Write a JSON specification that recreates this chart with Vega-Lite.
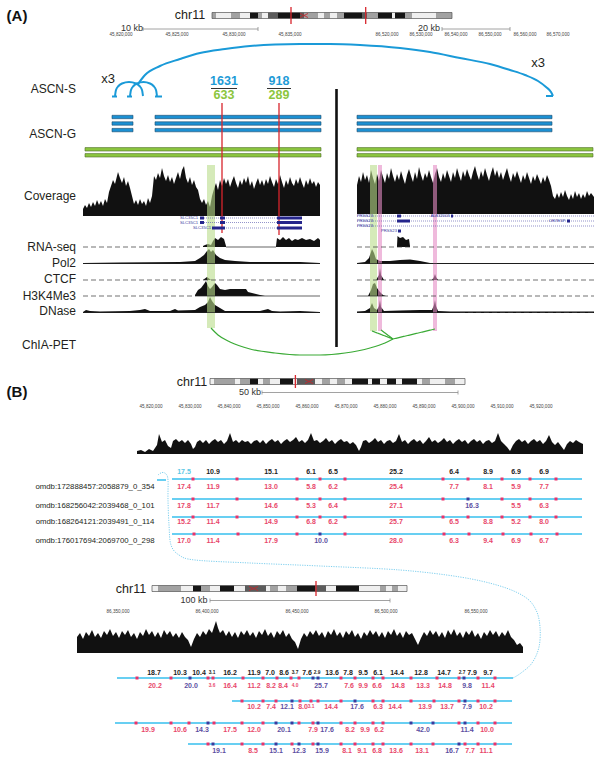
{
"$schema":"https://vega.github.io/schema/vega-lite/v6.json",
"width":602,"height":761,
"autosize":{"type":"fit","contains":"padding"},
"padding":0,
"background":"white",
"config":{"view":{"stroke":null},"font":"Liberation Sans"},
"resolve":{"scale":{"color":"independent","fill":"independent","stroke":"independent","size":"independent","strokeDash":"independent","opacity":"independent"}},
"datasets":{
"ideo":[
{"x":212,"x2":216,"y":12.5,"y2":18.5,"c":"g"},{"x":216,"x2":231,"y":12.5,"y2":18.5,"c":"w"},{"x":231,"x2":240,"y":12.5,"y2":18.5,"c":"g"},{"x":240,"x2":250,"y":12.5,"y2":18.5,"c":"w"},{"x":250,"x2":258,"y":12.5,"y2":18.5,"c":"k"},{"x":258,"x2":262,"y":12.5,"y2":18.5,"c":"g"},{"x":262,"x2":268,"y":12.5,"y2":18.5,"c":"w"},{"x":268,"x2":278,"y":12.5,"y2":18.5,"c":"d"},{"x":278,"x2":300,"y":12.5,"y2":18.5,"c":"k"},{"x":300,"x2":304,"y":12.5,"y2":18.5,"c":"d"},{"x":304,"x2":318,"y":12.5,"y2":18.5,"c":"g"},{"x":318,"x2":324,"y":12.5,"y2":18.5,"c":"w"},{"x":324,"x2":330,"y":12.5,"y2":18.5,"c":"g"},{"x":330,"x2":337,"y":12.5,"y2":18.5,"c":"w"},{"x":337,"x2":344,"y":12.5,"y2":18.5,"c":"g"},{"x":344,"x2":362,"y":12.5,"y2":18.5,"c":"k"},{"x":362,"x2":367,"y":12.5,"y2":18.5,"c":"d"},{"x":367,"x2":378,"y":12.5,"y2":18.5,"c":"g"},{"x":378,"x2":392,"y":12.5,"y2":18.5,"c":"k"},{"x":392,"x2":395,"y":12.5,"y2":18.5,"c":"w"},{"x":395,"x2":405,"y":12.5,"y2":18.5,"c":"k"},{"x":405,"x2":412,"y":12.5,"y2":18.5,"c":"g"},{"x":412,"x2":436,"y":12.5,"y2":18.5,"c":"w"},{"x":436,"x2":442,"y":12.5,"y2":18.5,"c":"g"},{"x":442,"x2":452,"y":12.5,"y2":18.5,"c":"g"},
{"x":210,"x2":214,"y":378.5,"y2":384.5,"c":"w"},{"x":214,"x2":235,"y":378.5,"y2":384.5,"c":"g"},{"x":235,"x2":240,"y":378.5,"y2":384.5,"c":"w"},{"x":240,"x2":250,"y":378.5,"y2":384.5,"c":"g"},{"x":250,"x2":258,"y":378.5,"y2":384.5,"c":"k"},{"x":258,"x2":263,"y":378.5,"y2":384.5,"c":"w"},{"x":263,"x2":270,"y":378.5,"y2":384.5,"c":"g"},{"x":270,"x2":280,"y":378.5,"y2":384.5,"c":"w"},{"x":280,"x2":293,"y":378.5,"y2":384.5,"c":"k"},{"x":293,"x2":297,"y":378.5,"y2":384.5,"c":"w"},{"x":297,"x2":315,"y":378.5,"y2":384.5,"c":"d"},{"x":315,"x2":322,"y":378.5,"y2":384.5,"c":"w"},{"x":322,"x2":330,"y":378.5,"y2":384.5,"c":"g"},{"x":330,"x2":337,"y":378.5,"y2":384.5,"c":"w"},{"x":337,"x2":345,"y":378.5,"y2":384.5,"c":"g"},{"x":345,"x2":352,"y":378.5,"y2":384.5,"c":"w"},{"x":352,"x2":368,"y":378.5,"y2":384.5,"c":"k"},{"x":368,"x2":372,"y":378.5,"y2":384.5,"c":"w"},{"x":372,"x2":380,"y":378.5,"y2":384.5,"c":"k"},{"x":380,"x2":387,"y":378.5,"y2":384.5,"c":"w"},{"x":387,"x2":396,"y":378.5,"y2":384.5,"c":"k"},{"x":396,"x2":402,"y":378.5,"y2":384.5,"c":"w"},{"x":402,"x2":417,"y":378.5,"y2":384.5,"c":"k"},{"x":417,"x2":422,"y":378.5,"y2":384.5,"c":"w"},{"x":422,"x2":430,"y":378.5,"y2":384.5,"c":"g"},{"x":430,"x2":445,"y":378.5,"y2":384.5,"c":"w"},{"x":445,"x2":455,"y":378.5,"y2":384.5,"c":"g"},{"x":455,"x2":465,"y":378.5,"y2":384.5,"c":"w"},
{"x":152,"x2":158,"y":585.5,"y2":591.5,"c":"w"},{"x":158,"x2":181,"y":585.5,"y2":591.5,"c":"g"},{"x":181,"x2":193,"y":585.5,"y2":591.5,"c":"w"},{"x":193,"x2":201,"y":585.5,"y2":591.5,"c":"k"},{"x":201,"x2":210,"y":585.5,"y2":591.5,"c":"g"},{"x":210,"x2":220,"y":585.5,"y2":591.5,"c":"w"},{"x":220,"x2":234,"y":585.5,"y2":591.5,"c":"k"},{"x":234,"x2":245,"y":585.5,"y2":591.5,"c":"w"},{"x":245,"x2":266,"y":585.5,"y2":591.5,"c":"d"},{"x":266,"x2":270,"y":585.5,"y2":591.5,"c":"w"},{"x":270,"x2":278,"y":585.5,"y2":591.5,"c":"g"},{"x":278,"x2":286,"y":585.5,"y2":591.5,"c":"w"},{"x":286,"x2":297,"y":585.5,"y2":591.5,"c":"g"},{"x":297,"x2":315,"y":585.5,"y2":591.5,"c":"k"},{"x":315,"x2":326,"y":585.5,"y2":591.5,"c":"d"},{"x":326,"x2":336,"y":585.5,"y2":591.5,"c":"w"},{"x":336,"x2":359,"y":585.5,"y2":591.5,"c":"k"},{"x":359,"x2":380,"y":585.5,"y2":591.5,"c":"w"},{"x":380,"x2":386,"y":585.5,"y2":591.5,"c":"g"},{"x":386,"x2":392,"y":585.5,"y2":591.5,"c":"w"},{"x":392,"x2":398,"y":585.5,"y2":591.5,"c":"g"},{"x":398,"x2":407,"y":585.5,"y2":591.5,"c":"w"}
],
"ideobox":[{"x":212,"x2":452,"y":12.5,"y2":18.5},{"x":210,"x2":465,"y":378.5,"y2":384.5},{"x":152,"x2":407,"y":585.5,"y2":591.5}],
"bars":[
{"x":112,"x2":133,"y":115.3,"y2":118.7,"c":"b"},{"x":155,"x2":321,"y":115.3,"y2":118.7,"c":"b"},{"x":357,"x2":552,"y":115.3,"y2":118.7,"c":"b"},
{"x":112,"x2":133,"y":121.8,"y2":125.2,"c":"b"},{"x":155,"x2":321,"y":121.8,"y2":125.2,"c":"b"},{"x":357,"x2":552,"y":121.8,"y2":125.2,"c":"b"},
{"x":112,"x2":133,"y":128.4,"y2":131.8,"c":"b"},{"x":155,"x2":321,"y":128.4,"y2":131.8,"c":"b"},{"x":357,"x2":552,"y":128.4,"y2":131.8,"c":"b"},
{"x":85,"x2":321,"y":147.6,"y2":151,"c":"g"},{"x":357,"x2":593,"y":147.6,"y2":151,"c":"g"},
{"x":85,"x2":321,"y":153.6,"y2":157,"c":"g"},{"x":357,"x2":593,"y":153.6,"y2":157,"c":"g"}
],
"hl":[{"x":207,"x2":215,"y":165,"y2":328,"c":"g"},{"x":370,"x2":377,"y":165,"y2":331,"c":"g"},{"x":378,"x2":382,"y":165,"y2":331,"c":"p"},{"x":433,"x2":437,"y":165,"y2":331,"c":"p"}],
"bases":[{"s":"cA1","b":216},{"s":"cA2","b":214},{"s":"cB1","b":454},{"s":"cB2","b":653},{"s":"r1","b":247},{"s":"r2","b":247},{"s":"r3","b":247},{"s":"p1","b":264},{"s":"p2","b":264},{"s":"c1","b":280},{"s":"c2","b":280},{"s":"c3","b":280},{"s":"h1","b":296},{"s":"h2","b":296},{"s":"d1","b":313},{"s":"d2","b":313}],
"areas":[
{"s":"cA1","x":83,"y":209},{"s":"cA1","x":85,"y":205},{"s":"cA1","x":87,"y":208},{"s":"cA1","x":89,"y":203},{"s":"cA1","x":91,"y":207},{"s":"cA1","x":93,"y":202},{"s":"cA1","x":95,"y":206},{"s":"cA1","x":97,"y":200},{"s":"cA1","x":99,"y":205},{"s":"cA1","x":101,"y":201},{"s":"cA1","x":103,"y":206},{"s":"cA1","x":105,"y":199},{"s":"cA1","x":107,"y":203},{"s":"cA1","x":109,"y":192},{"s":"cA1","x":111,"y":186},{"s":"cA1","x":113,"y":180},{"s":"cA1","x":115,"y":184},{"s":"cA1","x":117,"y":176},{"s":"cA1","x":118,"y":172},{"s":"cA1","x":120,"y":178},{"s":"cA1","x":122,"y":183},{"s":"cA1","x":124,"y":177},{"s":"cA1","x":126,"y":186},{"s":"cA1","x":128,"y":181},{"s":"cA1","x":130,"y":188},{"s":"cA1","x":132,"y":196},{"s":"cA1","x":134,"y":204},{"s":"cA1","x":136,"y":200},{"s":"cA1","x":138,"y":205},{"s":"cA1","x":140,"y":199},{"s":"cA1","x":142,"y":204},{"s":"cA1","x":144,"y":201},{"s":"cA1","x":146,"y":206},{"s":"cA1","x":148,"y":198},{"s":"cA1","x":150,"y":203},{"s":"cA1","x":152,"y":196},{"s":"cA1","x":154,"y":176},{"s":"cA1","x":156,"y":180},{"s":"cA1","x":158,"y":173},{"s":"cA1","x":160,"y":178},{"s":"cA1","x":162,"y":168},{"s":"cA1","x":164,"y":176},{"s":"cA1","x":166,"y":181},{"s":"cA1","x":168,"y":175},{"s":"cA1","x":170,"y":182},{"s":"cA1","x":172,"y":177},{"s":"cA1","x":174,"y":184},{"s":"cA1","x":176,"y":178},{"s":"cA1","x":178,"y":172},{"s":"cA1","x":180,"y":179},{"s":"cA1","x":182,"y":170},{"s":"cA1","x":184,"y":166},{"s":"cA1","x":186,"y":178},{"s":"cA1","x":188,"y":183},{"s":"cA1","x":190,"y":177},{"s":"cA1","x":192,"y":185},{"s":"cA1","x":194,"y":180},{"s":"cA1","x":196,"y":187},{"s":"cA1","x":198,"y":190},{"s":"cA1","x":200,"y":199},{"s":"cA1","x":202,"y":203},{"s":"cA1","x":204,"y":199},{"s":"cA1","x":206,"y":205},{"s":"cA1","x":208,"y":201},{"s":"cA1","x":210,"y":207},{"s":"cA1","x":212,"y":196},{"s":"cA1","x":214,"y":189},{"s":"cA1","x":216,"y":183},{"s":"cA1","x":218,"y":190},{"s":"cA1","x":220,"y":180},{"s":"cA1","x":222,"y":186},{"s":"cA1","x":224,"y":178},{"s":"cA1","x":226,"y":184},{"s":"cA1","x":228,"y":179},{"s":"cA1","x":230,"y":187},{"s":"cA1","x":232,"y":181},{"s":"cA1","x":234,"y":176},{"s":"cA1","x":236,"y":183},{"s":"cA1","x":238,"y":188},{"s":"cA1","x":240,"y":180},{"s":"cA1","x":242,"y":185},{"s":"cA1","x":244,"y":178},{"s":"cA1","x":246,"y":183},{"s":"cA1","x":248,"y":176},{"s":"cA1","x":250,"y":186},{"s":"cA1","x":252,"y":181},{"s":"cA1","x":254,"y":189},{"s":"cA1","x":256,"y":183},{"s":"cA1","x":258,"y":178},{"s":"cA1","x":260,"y":185},{"s":"cA1","x":262,"y":180},{"s":"cA1","x":264,"y":186},{"s":"cA1","x":266,"y":179},{"s":"cA1","x":268,"y":184},{"s":"cA1","x":270,"y":176},{"s":"cA1","x":272,"y":182},{"s":"cA1","x":274,"y":187},{"s":"cA1","x":276,"y":179},{"s":"cA1","x":278,"y":184},{"s":"cA1","x":280,"y":175},{"s":"cA1","x":282,"y":182},{"s":"cA1","x":284,"y":188},{"s":"cA1","x":286,"y":180},{"s":"cA1","x":288,"y":185},{"s":"cA1","x":290,"y":177},{"s":"cA1","x":292,"y":183},{"s":"cA1","x":294,"y":186},{"s":"cA1","x":296,"y":179},{"s":"cA1","x":298,"y":184},{"s":"cA1","x":300,"y":177},{"s":"cA1","x":302,"y":183},{"s":"cA1","x":304,"y":188},{"s":"cA1","x":306,"y":180},{"s":"cA1","x":308,"y":185},{"s":"cA1","x":310,"y":178},{"s":"cA1","x":312,"y":184},{"s":"cA1","x":314,"y":181},{"s":"cA1","x":316,"y":187},{"s":"cA1","x":318,"y":182},{"s":"cA1","x":320,"y":185},
{"s":"cA2","x":357,"y":185},{"s":"cA2","x":359,"y":176},{"s":"cA2","x":361,"y":182},{"s":"cA2","x":363,"y":172},{"s":"cA2","x":365,"y":180},{"s":"cA2","x":367,"y":175},{"s":"cA2","x":369,"y":183},{"s":"cA2","x":371,"y":170},{"s":"cA2","x":373,"y":178},{"s":"cA2","x":375,"y":184},{"s":"cA2","x":377,"y":174},{"s":"cA2","x":379,"y":181},{"s":"cA2","x":381,"y":170},{"s":"cA2","x":383,"y":177},{"s":"cA2","x":385,"y":183},{"s":"cA2","x":387,"y":173},{"s":"cA2","x":389,"y":179},{"s":"cA2","x":391,"y":168},{"s":"cA2","x":393,"y":176},{"s":"cA2","x":395,"y":182},{"s":"cA2","x":397,"y":174},{"s":"cA2","x":399,"y":180},{"s":"cA2","x":401,"y":171},{"s":"cA2","x":403,"y":178},{"s":"cA2","x":405,"y":184},{"s":"cA2","x":407,"y":175},{"s":"cA2","x":409,"y":169},{"s":"cA2","x":411,"y":176},{"s":"cA2","x":413,"y":182},{"s":"cA2","x":415,"y":172},{"s":"cA2","x":417,"y":179},{"s":"cA2","x":419,"y":167},{"s":"cA2","x":421,"y":175},{"s":"cA2","x":423,"y":181},{"s":"cA2","x":425,"y":173},{"s":"cA2","x":427,"y":178},{"s":"cA2","x":429,"y":170},{"s":"cA2","x":431,"y":177},{"s":"cA2","x":433,"y":183},{"s":"cA2","x":435,"y":174},{"s":"cA2","x":437,"y":168},{"s":"cA2","x":439,"y":177},{"s":"cA2","x":441,"y":182},{"s":"cA2","x":443,"y":173},{"s":"cA2","x":445,"y":179},{"s":"cA2","x":447,"y":170},{"s":"cA2","x":449,"y":176},{"s":"cA2","x":451,"y":182},{"s":"cA2","x":453,"y":172},{"s":"cA2","x":455,"y":178},{"s":"cA2","x":457,"y":168},{"s":"cA2","x":459,"y":175},{"s":"cA2","x":461,"y":181},{"s":"cA2","x":463,"y":171},{"s":"cA2","x":465,"y":177},{"s":"cA2","x":467,"y":169},{"s":"cA2","x":469,"y":175},{"s":"cA2","x":471,"y":180},{"s":"cA2","x":473,"y":172},{"s":"cA2","x":475,"y":166},{"s":"cA2","x":477,"y":174},{"s":"cA2","x":479,"y":180},{"s":"cA2","x":481,"y":171},{"s":"cA2","x":483,"y":177},{"s":"cA2","x":485,"y":168},{"s":"cA2","x":487,"y":175},{"s":"cA2","x":489,"y":181},{"s":"cA2","x":491,"y":173},{"s":"cA2","x":493,"y":167},{"s":"cA2","x":495,"y":176},{"s":"cA2","x":497,"y":170},{"s":"cA2","x":499,"y":178},{"s":"cA2","x":501,"y":172},{"s":"cA2","x":503,"y":180},{"s":"cA2","x":505,"y":174},{"s":"cA2","x":507,"y":168},{"s":"cA2","x":509,"y":176},{"s":"cA2","x":511,"y":182},{"s":"cA2","x":513,"y":173},{"s":"cA2","x":515,"y":178},{"s":"cA2","x":517,"y":171},{"s":"cA2","x":519,"y":177},{"s":"cA2","x":521,"y":183},{"s":"cA2","x":523,"y":175},{"s":"cA2","x":525,"y":180},{"s":"cA2","x":527,"y":172},{"s":"cA2","x":529,"y":178},{"s":"cA2","x":531,"y":184},{"s":"cA2","x":533,"y":176},{"s":"cA2","x":535,"y":181},{"s":"cA2","x":537,"y":174},{"s":"cA2","x":539,"y":179},{"s":"cA2","x":541,"y":184},{"s":"cA2","x":543,"y":177},{"s":"cA2","x":545,"y":182},{"s":"cA2","x":547,"y":175},{"s":"cA2","x":549,"y":180},{"s":"cA2","x":551,"y":186},{"s":"cA2","x":553,"y":196},{"s":"cA2","x":555,"y":199},{"s":"cA2","x":557,"y":193},{"s":"cA2","x":559,"y":198},{"s":"cA2","x":561,"y":192},{"s":"cA2","x":563,"y":197},{"s":"cA2","x":565,"y":190},{"s":"cA2","x":567,"y":196},{"s":"cA2","x":569,"y":200},{"s":"cA2","x":571,"y":194},{"s":"cA2","x":573,"y":199},{"s":"cA2","x":575,"y":191},{"s":"cA2","x":577,"y":197},{"s":"cA2","x":579,"y":193},{"s":"cA2","x":581,"y":199},{"s":"cA2","x":583,"y":194},{"s":"cA2","x":585,"y":198},{"s":"cA2","x":587,"y":191},{"s":"cA2","x":589,"y":196},{"s":"cA2","x":591,"y":193},{"s":"cA2","x":594,"y":197},
{"s":"cB1","x":137,"y":451},{"s":"cB1","x":141,"y":450},{"s":"cB1","x":145,"y":452},{"s":"cB1","x":149,"y":449},{"s":"cB1","x":153,"y":451},{"s":"cB1","x":157,"y":445},{"s":"cB1","x":159,"y":434},{"s":"cB1","x":162,"y":442},{"s":"cB1","x":165,"y":440},{"s":"cB1","x":168,"y":446},{"s":"cB1","x":171,"y":448},{"s":"cB1","x":173,"y":441},{"s":"cB1","x":176,"y":439},{"s":"cB1","x":179,"y":442},{"s":"cB1","x":182,"y":440},{"s":"cB1","x":185,"y":443},{"s":"cB1","x":188,"y":440},{"s":"cB1","x":191,"y":444},{"s":"cB1","x":193,"y":449},{"s":"cB1","x":195,"y":447},{"s":"cB1","x":197,"y":442},{"s":"cB1","x":200,"y":440},{"s":"cB1","x":203,"y":443},{"s":"cB1","x":206,"y":440},{"s":"cB1","x":209,"y":444},{"s":"cB1","x":212,"y":441},{"s":"cB1","x":215,"y":439},{"s":"cB1","x":218,"y":442},{"s":"cB1","x":221,"y":440},{"s":"cB1","x":224,"y":444},{"s":"cB1","x":227,"y":441},{"s":"cB1","x":230,"y":433},{"s":"cB1","x":233,"y":442},{"s":"cB1","x":236,"y":440},{"s":"cB1","x":239,"y":443},{"s":"cB1","x":242,"y":440},{"s":"cB1","x":245,"y":442},{"s":"cB1","x":248,"y":441},{"s":"cB1","x":251,"y":444},{"s":"cB1","x":254,"y":441},{"s":"cB1","x":257,"y":440},{"s":"cB1","x":260,"y":443},{"s":"cB1","x":263,"y":440},{"s":"cB1","x":266,"y":444},{"s":"cB1","x":269,"y":441},{"s":"cB1","x":272,"y":439},{"s":"cB1","x":275,"y":442},{"s":"cB1","x":278,"y":440},{"s":"cB1","x":281,"y":444},{"s":"cB1","x":284,"y":441},{"s":"cB1","x":287,"y":439},{"s":"cB1","x":290,"y":442},{"s":"cB1","x":293,"y":440},{"s":"cB1","x":296,"y":437},{"s":"cB1","x":299,"y":442},{"s":"cB1","x":302,"y":440},{"s":"cB1","x":305,"y":443},{"s":"cB1","x":308,"y":440},{"s":"cB1","x":311,"y":433},{"s":"cB1","x":314,"y":441},{"s":"cB1","x":317,"y":440},{"s":"cB1","x":320,"y":443},{"s":"cB1","x":323,"y":441},{"s":"cB1","x":326,"y":438},{"s":"cB1","x":329,"y":442},{"s":"cB1","x":332,"y":440},{"s":"cB1","x":335,"y":444},{"s":"cB1","x":338,"y":441},{"s":"cB1","x":341,"y":439},{"s":"cB1","x":344,"y":442},{"s":"cB1","x":347,"y":441},{"s":"cB1","x":350,"y":444},{"s":"cB1","x":353,"y":442},{"s":"cB1","x":356,"y":445},{"s":"cB1","x":359,"y":451},{"s":"cB1","x":361,"y":447},{"s":"cB1","x":363,"y":441},{"s":"cB1","x":366,"y":440},{"s":"cB1","x":369,"y":443},{"s":"cB1","x":372,"y":441},{"s":"cB1","x":375,"y":438},{"s":"cB1","x":378,"y":442},{"s":"cB1","x":381,"y":440},{"s":"cB1","x":384,"y":444},{"s":"cB1","x":387,"y":441},{"s":"cB1","x":390,"y":440},{"s":"cB1","x":393,"y":443},{"s":"cB1","x":396,"y":441},{"s":"cB1","x":399,"y":434},{"s":"cB1","x":402,"y":442},{"s":"cB1","x":405,"y":440},{"s":"cB1","x":408,"y":444},{"s":"cB1","x":411,"y":441},{"s":"cB1","x":414,"y":439},{"s":"cB1","x":417,"y":442},{"s":"cB1","x":420,"y":440},{"s":"cB1","x":423,"y":444},{"s":"cB1","x":426,"y":441},{"s":"cB1","x":429,"y":437},{"s":"cB1","x":432,"y":442},{"s":"cB1","x":435,"y":440},{"s":"cB1","x":438,"y":443},{"s":"cB1","x":441,"y":441},{"s":"cB1","x":444,"y":438},{"s":"cB1","x":447,"y":442},{"s":"cB1","x":450,"y":440},{"s":"cB1","x":453,"y":444},{"s":"cB1","x":456,"y":441},{"s":"cB1","x":459,"y":439},{"s":"cB1","x":462,"y":442},{"s":"cB1","x":465,"y":440},{"s":"cB1","x":468,"y":444},{"s":"cB1","x":471,"y":441},{"s":"cB1","x":474,"y":439},{"s":"cB1","x":477,"y":442},{"s":"cB1","x":480,"y":440},{"s":"cB1","x":483,"y":444},{"s":"cB1","x":486,"y":441},{"s":"cB1","x":489,"y":440},{"s":"cB1","x":492,"y":443},{"s":"cB1","x":495,"y":441},{"s":"cB1","x":498,"y":433},{"s":"cB1","x":501,"y":441},{"s":"cB1","x":504,"y":444},{"s":"cB1","x":507,"y":447},{"s":"cB1","x":510,"y":451},{"s":"cB1","x":513,"y":445},{"s":"cB1","x":516,"y":441},{"s":"cB1","x":519,"y":439},{"s":"cB1","x":522,"y":442},{"s":"cB1","x":525,"y":440},{"s":"cB1","x":528,"y":444},{"s":"cB1","x":531,"y":441},{"s":"cB1","x":534,"y":439},{"s":"cB1","x":537,"y":442},{"s":"cB1","x":540,"y":440},{"s":"cB1","x":543,"y":444},{"s":"cB1","x":546,"y":441},{"s":"cB1","x":549,"y":435},{"s":"cB1","x":552,"y":442},{"s":"cB1","x":555,"y":445},{"s":"cB1","x":558,"y":442},{"s":"cB1","x":561,"y":446},{"s":"cB1","x":564,"y":450},{"s":"cB1","x":567,"y":444},{"s":"cB1","x":570,"y":441},{"s":"cB1","x":573,"y":443},{"s":"cB1","x":576,"y":440},{"s":"cB1","x":579,"y":442},{"s":"cB1","x":583,"y":444},
{"s":"cB2","x":77,"y":637},{"s":"cB2","x":80,"y":633},{"s":"cB2","x":83,"y":639},{"s":"cB2","x":86,"y":632},{"s":"cB2","x":89,"y":636},{"s":"cB2","x":92,"y":630},{"s":"cB2","x":95,"y":637},{"s":"cB2","x":98,"y":633},{"s":"cB2","x":101,"y":638},{"s":"cB2","x":104,"y":631},{"s":"cB2","x":107,"y":635},{"s":"cB2","x":110,"y":629},{"s":"cB2","x":113,"y":636},{"s":"cB2","x":116,"y":632},{"s":"cB2","x":119,"y":638},{"s":"cB2","x":122,"y":631},{"s":"cB2","x":125,"y":635},{"s":"cB2","x":128,"y":630},{"s":"cB2","x":131,"y":637},{"s":"cB2","x":134,"y":633},{"s":"cB2","x":137,"y":639},{"s":"cB2","x":140,"y":632},{"s":"cB2","x":143,"y":636},{"s":"cB2","x":146,"y":629},{"s":"cB2","x":149,"y":635},{"s":"cB2","x":152,"y":631},{"s":"cB2","x":155,"y":637},{"s":"cB2","x":158,"y":632},{"s":"cB2","x":161,"y":638},{"s":"cB2","x":164,"y":630},{"s":"cB2","x":167,"y":635},{"s":"cB2","x":170,"y":631},{"s":"cB2","x":173,"y":637},{"s":"cB2","x":176,"y":633},{"s":"cB2","x":179,"y":638},{"s":"cB2","x":182,"y":632},{"s":"cB2","x":185,"y":637},{"s":"cB2","x":188,"y":640},{"s":"cB2","x":191,"y":647},{"s":"cB2","x":194,"y":639},{"s":"cB2","x":197,"y":633},{"s":"cB2","x":200,"y":637},{"s":"cB2","x":203,"y":631},{"s":"cB2","x":206,"y":635},{"s":"cB2","x":209,"y":629},{"s":"cB2","x":212,"y":633},{"s":"cB2","x":214,"y":627},{"s":"cB2","x":216,"y":621},{"s":"cB2","x":218,"y":628},{"s":"cB2","x":220,"y":633},{"s":"cB2","x":223,"y":630},{"s":"cB2","x":226,"y":636},{"s":"cB2","x":229,"y":631},{"s":"cB2","x":232,"y":637},{"s":"cB2","x":235,"y":632},{"s":"cB2","x":238,"y":638},{"s":"cB2","x":241,"y":631},{"s":"cB2","x":244,"y":635},{"s":"cB2","x":247,"y":630},{"s":"cB2","x":250,"y":636},{"s":"cB2","x":253,"y":632},{"s":"cB2","x":256,"y":638},{"s":"cB2","x":259,"y":631},{"s":"cB2","x":262,"y":635},{"s":"cB2","x":265,"y":629},{"s":"cB2","x":268,"y":636},{"s":"cB2","x":271,"y":632},{"s":"cB2","x":274,"y":638},{"s":"cB2","x":277,"y":631},{"s":"cB2","x":280,"y":635},{"s":"cB2","x":283,"y":630},{"s":"cB2","x":286,"y":637},{"s":"cB2","x":289,"y":633},{"s":"cB2","x":292,"y":639},{"s":"cB2","x":295,"y":642},{"s":"cB2","x":298,"y":649},{"s":"cB2","x":301,"y":639},{"s":"cB2","x":304,"y":633},{"s":"cB2","x":307,"y":637},{"s":"cB2","x":310,"y":631},{"s":"cB2","x":313,"y":635},{"s":"cB2","x":316,"y":630},{"s":"cB2","x":319,"y":636},{"s":"cB2","x":322,"y":632},{"s":"cB2","x":325,"y":638},{"s":"cB2","x":328,"y":631},{"s":"cB2","x":331,"y":635},{"s":"cB2","x":334,"y":629},{"s":"cB2","x":337,"y":636},{"s":"cB2","x":340,"y":632},{"s":"cB2","x":343,"y":638},{"s":"cB2","x":346,"y":631},{"s":"cB2","x":349,"y":635},{"s":"cB2","x":352,"y":630},{"s":"cB2","x":355,"y":637},{"s":"cB2","x":358,"y":633},{"s":"cB2","x":361,"y":639},{"s":"cB2","x":364,"y":632},{"s":"cB2","x":367,"y":636},{"s":"cB2","x":370,"y":630},{"s":"cB2","x":373,"y":635},{"s":"cB2","x":376,"y":631},{"s":"cB2","x":379,"y":637},{"s":"cB2","x":382,"y":632},{"s":"cB2","x":385,"y":638},{"s":"cB2","x":388,"y":631},{"s":"cB2","x":391,"y":635},{"s":"cB2","x":394,"y":629},{"s":"cB2","x":397,"y":636},{"s":"cB2","x":400,"y":632},{"s":"cB2","x":403,"y":638},{"s":"cB2","x":406,"y":631},{"s":"cB2","x":409,"y":635},{"s":"cB2","x":412,"y":633},{"s":"cB2","x":415,"y":639},{"s":"cB2","x":418,"y":645},{"s":"cB2","x":421,"y":638},{"s":"cB2","x":424,"y":632},{"s":"cB2","x":427,"y":636},{"s":"cB2","x":430,"y":630},{"s":"cB2","x":433,"y":635},{"s":"cB2","x":436,"y":631},{"s":"cB2","x":439,"y":637},{"s":"cB2","x":442,"y":632},{"s":"cB2","x":445,"y":638},{"s":"cB2","x":448,"y":630},{"s":"cB2","x":451,"y":635},{"s":"cB2","x":454,"y":629},{"s":"cB2","x":457,"y":636},{"s":"cB2","x":460,"y":632},{"s":"cB2","x":463,"y":638},{"s":"cB2","x":466,"y":631},{"s":"cB2","x":469,"y":635},{"s":"cB2","x":472,"y":630},{"s":"cB2","x":475,"y":637},{"s":"cB2","x":478,"y":633},{"s":"cB2","x":481,"y":639},{"s":"cB2","x":484,"y":632},{"s":"cB2","x":487,"y":636},{"s":"cB2","x":490,"y":630},{"s":"cB2","x":493,"y":635},{"s":"cB2","x":496,"y":631},{"s":"cB2","x":499,"y":637},{"s":"cB2","x":502,"y":632},{"s":"cB2","x":505,"y":636},{"s":"cB2","x":508,"y":630},{"s":"cB2","x":511,"y":637},{"s":"cB2","x":514,"y":640},{"s":"cB2","x":517,"y":645},{"s":"cB2","x":520,"y":643},{"s":"cB2","x":523,"y":647},
{"s":"r1","x":203,"y":246},{"s":"r1","x":205,"y":245},{"s":"r1","x":208,"y":244},{"s":"r1","x":211,"y":245},{"s":"r1","x":213,"y":241},{"s":"r1","x":215,"y":238},{"s":"r1","x":218,"y":240},{"s":"r1","x":221,"y":237},{"s":"r1","x":224,"y":239},{"s":"r1","x":226,"y":246},
{"s":"r2","x":276,"y":246},{"s":"r2","x":277,"y":238},{"s":"r2","x":280,"y":240},{"s":"r2","x":283,"y":237},{"s":"r2","x":286,"y":240},{"s":"r2","x":289,"y":238},{"s":"r2","x":292,"y":241},{"s":"r2","x":295,"y":239},{"s":"r2","x":298,"y":240},{"s":"r2","x":302,"y":238},{"s":"r2","x":306,"y":240},{"s":"r2","x":310,"y":239},{"s":"r2","x":314,"y":241},{"s":"r2","x":318,"y":238},{"s":"r2","x":320,"y":240},
{"s":"r3","x":397,"y":246},{"s":"r3","x":397.5,"y":236},{"s":"r3","x":400,"y":238},{"s":"r3","x":403,"y":237},{"s":"r3","x":406,"y":240},{"s":"r3","x":409,"y":239},{"s":"r3","x":410,"y":246},
{"s":"p1","x":83,"y":263},{"s":"p1","x":120,"y":262.5},{"s":"p1","x":180,"y":262},{"s":"p1","x":195,"y":261},{"s":"p1","x":200,"y":258},{"s":"p1","x":204,"y":255},{"s":"p1","x":207,"y":251},{"s":"p1","x":209,"y":249},{"s":"p1","x":211,"y":252},{"s":"p1","x":213,"y":250},{"s":"p1","x":216,"y":255},{"s":"p1","x":220,"y":258},{"s":"p1","x":225,"y":260},{"s":"p1","x":235,"y":261},{"s":"p1","x":250,"y":262},{"s":"p1","x":300,"y":262},{"s":"p1","x":320,"y":263},
{"s":"p2","x":357,"y":263},{"s":"p2","x":365,"y":262},{"s":"p2","x":369,"y":258},{"s":"p2","x":371,"y":252},{"s":"p2","x":372,"y":249},{"s":"p2","x":374,"y":253},{"s":"p2","x":376,"y":259},{"s":"p2","x":380,"y":261},{"s":"p2","x":390,"y":261},{"s":"p2","x":400,"y":260},{"s":"p2","x":410,"y":259.5},{"s":"p2","x":420,"y":261},{"s":"p2","x":430,"y":263},{"s":"p2","x":594,"y":263},
{"s":"c1","x":203,"y":280},{"s":"c1","x":207,"y":277},{"s":"c1","x":211,"y":280},
{"s":"c2","x":376,"y":280},{"s":"c2","x":379,"y":275},{"s":"c2","x":380,"y":268},{"s":"c2","x":381,"y":275},{"s":"c2","x":384,"y":280},
{"s":"c3","x":432,"y":280},{"s":"c3","x":434,"y":277},{"s":"c3","x":435,"y":274},{"s":"c3","x":436,"y":277},{"s":"c3","x":438,"y":280},
{"s":"h1","x":195,"y":295},{"s":"h1","x":198,"y":290},{"s":"h1","x":201,"y":288},{"s":"h1","x":204,"y":284},{"s":"h1","x":206,"y":281},{"s":"h1","x":208,"y":286},{"s":"h1","x":210,"y":289},{"s":"h1","x":212,"y":287},{"s":"h1","x":215,"y":283},{"s":"h1","x":217,"y":285},{"s":"h1","x":220,"y":289},{"s":"h1","x":225,"y":290},{"s":"h1","x":230,"y":289},{"s":"h1","x":240,"y":289},{"s":"h1","x":246,"y":289},{"s":"h1","x":248,"y":292},{"s":"h1","x":252,"y":293},{"s":"h1","x":256,"y":294},{"s":"h1","x":260,"y":295},{"s":"h1","x":265,"y":296},
{"s":"h2","x":368,"y":296},{"s":"h2","x":371,"y":290},{"s":"h2","x":373,"y":284},{"s":"h2","x":375,"y":283},{"s":"h2","x":377,"y":288},{"s":"h2","x":380,"y":292},{"s":"h2","x":383,"y":295},{"s":"h2","x":386,"y":296},
{"s":"d1","x":83,"y":312},{"s":"d1","x":86,"y":310},{"s":"d1","x":90,"y":311},{"s":"d1","x":100,"y":311.5},{"s":"d1","x":130,"y":311},{"s":"d1","x":140,"y":310},{"s":"d1","x":145,"y":309},{"s":"d1","x":150,"y":311},{"s":"d1","x":170,"y":311},{"s":"d1","x":175,"y":309},{"s":"d1","x":178,"y":310.5},{"s":"d1","x":195,"y":310},{"s":"d1","x":200,"y":307},{"s":"d1","x":205,"y":305},{"s":"d1","x":208,"y":302},{"s":"d1","x":210,"y":297},{"s":"d1","x":212,"y":301},{"s":"d1","x":215,"y":305},{"s":"d1","x":220,"y":308},{"s":"d1","x":225,"y":311},{"s":"d1","x":260,"y":311},{"s":"d1","x":268,"y":309},{"s":"d1","x":272,"y":311},{"s":"d1","x":280,"y":311.5},{"s":"d1","x":300,"y":311},{"s":"d1","x":320,"y":312},
{"s":"d2","x":357,"y":311.5},{"s":"d2","x":365,"y":311},{"s":"d2","x":370,"y":308},{"s":"d2","x":372,"y":303},{"s":"d2","x":374,"y":308},{"s":"d2","x":377,"y":310},{"s":"d2","x":379,"y":306},{"s":"d2","x":380,"y":300},{"s":"d2","x":381,"y":307},{"s":"d2","x":384,"y":311},{"s":"d2","x":400,"y":310.5},{"s":"d2","x":420,"y":310},{"s":"d2","x":432,"y":310},{"s":"d2","x":434,"y":305},{"s":"d2","x":435,"y":300},{"s":"d2","x":436,"y":306},{"s":"d2","x":438,"y":311},{"s":"d2","x":450,"y":311.5},{"s":"d2","x":594,"y":311.5}
],
"curves":[
{"s":"arc","c":"b","x":138,"y":84},{"s":"arc","c":"b","x":145,"y":75},{"s":"arc","c":"b","x":160,"y":66},{"s":"arc","c":"b","x":180,"y":59},{"s":"arc","c":"b","x":200,"y":53},{"s":"arc","c":"b","x":225,"y":49},{"s":"arc","c":"b","x":250,"y":46},{"s":"arc","c":"b","x":275,"y":44.5},{"s":"arc","c":"b","x":300,"y":44},{"s":"arc","c":"b","x":330,"y":44},{"s":"arc","c":"b","x":360,"y":45},{"s":"arc","c":"b","x":400,"y":48},{"s":"arc","c":"b","x":430,"y":52},{"s":"arc","c":"b","x":460,"y":58},{"s":"arc","c":"b","x":490,"y":64},{"s":"arc","c":"b","x":510,"y":70},{"s":"arc","c":"b","x":525,"y":75},{"s":"arc","c":"b","x":538,"y":81},{"s":"arc","c":"b","x":546,"y":87},{"s":"arc","c":"b","x":551,"y":92},{"s":"arc","c":"b","x":553,"y":96},
{"s":"sc1","c":"b","x":115,"y":96},{"s":"sc1","c":"b","x":116,"y":90},{"s":"sc1","c":"b","x":118.5,"y":86},{"s":"sc1","c":"b","x":122,"y":83.5},{"s":"sc1","c":"b","x":129,"y":82},{"s":"sc1","c":"b","x":136,"y":83.5},{"s":"sc1","c":"b","x":139.5,"y":86},{"s":"sc1","c":"b","x":142,"y":90},{"s":"sc1","c":"b","x":143,"y":96},
{"s":"sc2","c":"b","x":130,"y":96},{"s":"sc2","c":"b","x":131,"y":90},{"s":"sc2","c":"b","x":133.5,"y":86},{"s":"sc2","c":"b","x":137,"y":83.5},{"s":"sc2","c":"b","x":143.5,"y":82},{"s":"sc2","c":"b","x":150,"y":83.5},{"s":"sc2","c":"b","x":153.5,"y":86},{"s":"sc2","c":"b","x":156,"y":90},{"s":"sc2","c":"b","x":157,"y":96},
{"s":"chia","c":"g","x":211,"y":328},{"s":"chia","c":"g","x":218,"y":335},{"s":"chia","c":"g","x":230,"y":342},{"s":"chia","c":"g","x":250,"y":349},{"s":"chia","c":"g","x":275,"y":353},{"s":"chia","c":"g","x":300,"y":355},{"s":"chia","c":"g","x":320,"y":355},{"s":"chia","c":"g","x":345,"y":353},{"s":"chia","c":"g","x":370,"y":348},{"s":"chia","c":"g","x":385,"y":343},{"s":"chia","c":"g","x":393,"y":339}
],
"dcurve":[
{"i":1,"x":158,"y":475},{"i":2,"x":162,"y":472.5},{"i":3,"x":166,"y":474},{"i":4,"x":168,"y":480},{"i":5,"x":168,"y":500},{"i":6,"x":169,"y":525},{"i":7,"x":171,"y":545},{"i":8,"x":179,"y":555},{"i":9,"x":195,"y":560},{"i":10,"x":250,"y":563},{"i":11,"x":320,"y":566},{"i":12,"x":400,"y":570},{"i":13,"x":460,"y":577},{"i":14,"x":500,"y":586},{"i":15,"x":525,"y":597},{"i":16,"x":536,"y":610},{"i":17,"x":540,"y":627},{"i":18,"x":539,"y":647},{"i":19,"x":532,"y":663},{"i":20,"x":521,"y":673},{"i":21,"x":513,"y":678}
],
"rules":[
{"k":"red","x":222,"y":103,"x2":222,"y2":233},{"k":"red","x":279,"y":103,"x2":279,"y2":235},{"k":"red","x":291,"y":7,"x2":291,"y2":24},{"k":"red","x":365.7,"y":7,"x2":365.7,"y2":24},{"k":"red","x":295.4,"y":375,"x2":295.4,"y2":388},{"k":"red","x":316,"y":581,"x2":316,"y2":596},
{"k":"cen","x":300,"y":13.5,"x2":308,"y2":17.5},{"k":"cen","x":300,"y":17.5,"x2":308,"y2":13.5},{"k":"cen","x":305,"y":379.5,"x2":313,"y2":383.5},{"k":"cen","x":305,"y":383.5,"x2":313,"y2":379.5},{"k":"cen","x":249,"y":586.5,"x2":258,"y2":590.5},{"k":"cen","x":249,"y":590.5,"x2":258,"y2":586.5},
{"k":"blk","x":336.5,"y":89,"x2":336.5,"y2":347},
{"k":"sb","x":143,"y":29,"x2":258,"y2":29},{"k":"sb","x":143,"y":27,"x2":143,"y2":31},{"k":"sb","x":258,"y":27,"x2":258,"y2":31},{"k":"sb","x":442,"y":29,"x2":510,"y2":29},{"k":"sb","x":442,"y":27,"x2":442,"y2":31},{"k":"sb","x":510,"y":27,"x2":510,"y2":31},{"k":"sb","x":262,"y":392.5,"x2":458,"y2":392.5},{"k":"sb","x":262,"y":390.5,"x2":262,"y2":394.5},{"k":"sb","x":458,"y":390.5,"x2":458,"y2":394.5},{"k":"sb","x":210,"y":600.5,"x2":390,"y2":600.5},{"k":"sb","x":210,"y":598.5,"x2":210,"y2":602.5},{"k":"sb","x":390,"y":598.5,"x2":390,"y2":602.5},
{"k":"map","x":172,"y":479,"x2":582,"y2":479},{"k":"map","x":172,"y":499,"x2":582,"y2":499},{"k":"map","x":172,"y":517,"x2":582,"y2":517},{"k":"map","x":172,"y":534,"x2":582,"y2":534},{"k":"map","x":157,"y":480,"x2":166,"y2":480},
{"k":"map","x":117,"y":678,"x2":513,"y2":678},{"k":"map","x":232,"y":701,"x2":512,"y2":701},{"k":"map","x":115,"y":723,"x2":512,"y2":723},{"k":"map","x":188,"y":744,"x2":512,"y2":744},
{"k":"blue","x":112,"y":96.5,"x2":117,"y2":96.5},{"k":"blue","x":127,"y":96.5,"x2":132,"y2":96.5},{"k":"blue","x":155,"y":96.5,"x2":162,"y2":96.5},{"k":"blue","x":546,"y":96,"x2":553,"y2":96},
{"k":"gdot","x":200,"y":218,"x2":302,"y2":218},{"k":"gdot","x":200,"y":222.5,"x2":302,"y2":222.5},{"k":"gdot","x":212,"y":228,"x2":302,"y2":228},{"k":"gdot","x":357,"y":216,"x2":594,"y2":216},{"k":"gdot","x":357,"y":221,"x2":594,"y2":221},{"k":"gdot","x":357,"y":226,"x2":594,"y2":226},
{"k":"gthk","x":200,"y":218,"x2":204,"y2":218},{"k":"gthk","x":220,"y":218,"x2":225,"y2":218},{"k":"gthk","x":277,"y":218,"x2":302,"y2":218},{"k":"gthk","x":200,"y":222.5,"x2":204,"y2":222.5},{"k":"gthk","x":220,"y":222.5,"x2":225,"y2":222.5},{"k":"gthk","x":277,"y":222.5,"x2":302,"y2":222.5},{"k":"gthk","x":212,"y":228,"x2":225,"y2":228},{"k":"gthk","x":277,"y":228,"x2":302,"y2":228},{"k":"gthk","x":397,"y":216,"x2":401,"y2":216},{"k":"gthk","x":397,"y":221,"x2":410,"y2":221},{"k":"gthk","x":398,"y":231,"x2":401,"y2":231},{"k":"gthk","x":451,"y":216,"x2":453,"y2":216},{"k":"gthk","x":567,"y":221,"x2":570,"y2":221},
{"k":"base","x":226,"y":247,"x2":276,"y2":247},{"k":"base","x":83,"y":263.5,"x2":320,"y2":263.5},{"k":"base","x":357,"y":263.5,"x2":594,"y2":263.5},{"k":"base","x":195,"y":296,"x2":320,"y2":296},{"k":"base","x":357,"y":296,"x2":383,"y2":296},{"k":"base","x":83,"y":312.5,"x2":320,"y2":312.5},{"k":"base","x":357,"y":312.5,"x2":460,"y2":312.5},
{"k":"based","x":83,"y":247,"x2":203,"y2":247},{"k":"based","x":357,"y":247,"x2":594,"y2":247},{"k":"based","x":83,"y":280,"x2":320,"y2":280},{"k":"based","x":357,"y":280,"x2":594,"y2":280},{"k":"based","x":83,"y":296,"x2":195,"y2":296},{"k":"based","x":383,"y":296,"x2":594,"y2":296},{"k":"based","x":460,"y":312.5,"x2":594,"y2":312.5},
{"k":"ul","x":211,"y":88.5,"x2":237,"y2":88.5},{"k":"ul","x":267,"y":88.5,"x2":291,"y2":88.5},
{"k":"chia","x":393,"y":339,"x2":372,"y2":331},{"k":"chia","x":393,"y":339,"x2":381,"y2":330},{"k":"chia","x":393,"y":339,"x2":435,"y2":329}
],
"dots":[
{"c":"r","x":193,"y":479},{"c":"r","x":237,"y":479},{"c":"r","x":297,"y":479},{"c":"r","x":320,"y":479},{"c":"r","x":345,"y":479},{"c":"r","x":443,"y":479},{"c":"r","x":468,"y":479},{"c":"r","x":502,"y":479},{"c":"r","x":530,"y":479},{"c":"r","x":556,"y":479},
{"c":"r","x":193,"y":499},{"c":"r","x":237,"y":499},{"c":"r","x":297,"y":499},{"c":"r","x":320,"y":499},{"c":"r","x":345,"y":499},{"c":"r","x":443,"y":499},{"c":"p","x":468,"y":499},{"c":"r","x":502,"y":499},{"c":"r","x":530,"y":499},{"c":"r","x":556,"y":499},
{"c":"r","x":193,"y":517},{"c":"r","x":237,"y":517},{"c":"r","x":297,"y":517},{"c":"r","x":320,"y":517},{"c":"r","x":345,"y":517},{"c":"r","x":443,"y":517},{"c":"r","x":468,"y":517},{"c":"r","x":502,"y":517},{"c":"r","x":530,"y":517},{"c":"r","x":556,"y":517},
{"c":"r","x":194,"y":534},{"c":"r","x":238,"y":534},{"c":"r","x":297,"y":534},{"c":"p","x":320,"y":534},{"c":"r","x":345,"y":534},{"c":"r","x":444,"y":534},{"c":"r","x":469,"y":534},{"c":"r","x":503,"y":534},{"c":"r","x":531,"y":534},{"c":"r","x":557,"y":534},
{"c":"r","x":137,"y":678},{"c":"r","x":171,"y":678},{"c":"p","x":190,"y":678},{"c":"r","x":208,"y":678},{"c":"r","x":213,"y":678},{"c":"r","x":243,"y":678},{"c":"r","x":263,"y":678},{"c":"r","x":277,"y":678},{"c":"r","x":291,"y":678},{"c":"r","x":299,"y":678},{"c":"p","x":313,"y":678},{"c":"p","x":318,"y":678},{"c":"r","x":341,"y":678},{"c":"r","x":355,"y":678},{"c":"r","x":373,"y":678},{"c":"r","x":383,"y":678},{"c":"r","x":411,"y":678},{"c":"r","x":437,"y":678},{"c":"r","x":459,"y":678},{"c":"p","x":464,"y":678},{"c":"r","x":478,"y":678},{"c":"r","x":495,"y":678},
{"c":"r","x":242,"y":701},{"c":"r","x":263,"y":701},{"c":"r","x":276,"y":701},{"c":"p","x":292,"y":701},{"c":"r","x":300,"y":701},{"c":"r","x":311,"y":701},{"c":"r","x":318,"y":701},{"c":"r","x":341,"y":701},{"c":"p","x":355,"y":701},{"c":"r","x":373,"y":701},{"c":"r","x":383,"y":701},{"c":"r","x":411,"y":701},{"c":"r","x":434,"y":701},{"c":"r","x":459,"y":701},{"c":"p","x":465,"y":701},{"c":"r","x":478,"y":701},{"c":"r","x":495,"y":701},
{"c":"r","x":136,"y":723},{"c":"r","x":171,"y":723},{"c":"r","x":189,"y":723},{"c":"p","x":208,"y":723},{"c":"r","x":214,"y":723},{"c":"r","x":242,"y":723},{"c":"r","x":263,"y":723},{"c":"p","x":276,"y":723},{"c":"p","x":292,"y":723},{"c":"r","x":299,"y":723},{"c":"r","x":313,"y":723},{"c":"p","x":318,"y":723},{"c":"r","x":341,"y":723},{"c":"r","x":355,"y":723},{"c":"r","x":373,"y":723},{"c":"r","x":383,"y":723},{"c":"p","x":411,"y":723},{"c":"p","x":433,"y":723},{"c":"r","x":459,"y":723},{"c":"p","x":465,"y":723},{"c":"r","x":478,"y":723},{"c":"r","x":495,"y":723},
{"c":"r","x":208,"y":744},{"c":"p","x":213,"y":744},{"c":"r","x":242,"y":744},{"c":"r","x":263,"y":744},{"c":"p","x":276,"y":744},{"c":"r","x":292,"y":744},{"c":"p","x":299,"y":744},{"c":"r","x":313,"y":744},{"c":"p","x":318,"y":744},{"c":"r","x":341,"y":744},{"c":"r","x":355,"y":744},{"c":"r","x":373,"y":744},{"c":"r","x":383,"y":744},{"c":"r","x":411,"y":744},{"c":"r","x":433,"y":744},{"c":"p","x":459,"y":744},{"c":"r","x":465,"y":744},{"c":"r","x":478,"y":744},{"c":"r","x":495,"y":744}
],
"tright":[
{"t":"ASCN-S","x":76,"y":89},{"t":"ASCN-G","x":76,"y":134},{"t":"Coverage","x":76,"y":196},{"t":"RNA-seq","x":76,"y":247},{"t":"Pol2","x":76,"y":263},{"t":"CTCF","x":76,"y":279},{"t":"H3K4Me3","x":76,"y":296},{"t":"DNase","x":76,"y":311},{"t":"ChIA-PET","x":76,"y":345}
],
"tnorm":[
{"k":"chr","t":"chr11","x":190,"y":15},{"k":"chr","t":"chr11","x":192,"y":381.5},{"k":"chr","t":"chr11","x":131,"y":588.5},
{"k":"x3","t":"x3","x":108,"y":79},{"k":"x3","t":"x3","x":538,"y":63},
{"k":"sb","t":"10 kb","x":132,"y":28},{"k":"sb","t":"20 kb","x":429,"y":28},{"k":"sb","t":"50 kb","x":250,"y":392},{"k":"sb","t":"100 kb","x":194,"y":600},
{"k":"tk","t":"45,820,000","x":121,"y":35},{"k":"tk","t":"45,825,000","x":177,"y":35},{"k":"tk","t":"45,830,000","x":234,"y":35},{"k":"tk","t":"45,835,000","x":290,"y":35},{"k":"tk","t":"86,520,000","x":387,"y":35},{"k":"tk","t":"86,530,000","x":421,"y":35},{"k":"tk","t":"86,540,000","x":456,"y":35},{"k":"tk","t":"86,550,000","x":490,"y":35},{"k":"tk","t":"86,560,000","x":525,"y":35},{"k":"tk","t":"86,570,000","x":558,"y":35},
{"k":"tk","t":"45,820,000","x":151,"y":406.5},{"k":"tk","t":"45,830,000","x":190,"y":406.5},{"k":"tk","t":"45,840,000","x":229,"y":406.5},{"k":"tk","t":"45,850,000","x":268,"y":406.5},{"k":"tk","t":"45,860,000","x":307,"y":406.5},{"k":"tk","t":"45,870,000","x":346,"y":406.5},{"k":"tk","t":"45,880,000","x":385,"y":406.5},{"k":"tk","t":"45,890,000","x":424,"y":406.5},{"k":"tk","t":"45,900,000","x":463,"y":406.5},{"k":"tk","t":"45,910,000","x":502,"y":406.5},{"k":"tk","t":"45,920,000","x":541,"y":406.5},
{"k":"tk","t":"86,350,000","x":118,"y":612},{"k":"tk","t":"86,400,000","x":207,"y":612},{"k":"tk","t":"86,450,000","x":297,"y":612},{"k":"tk","t":"86,500,000","x":386,"y":612},{"k":"tk","t":"86,550,000","x":476,"y":612},
{"k":"om","t":"omdb:172888457:2058879_0_354","x":95,"y":487},{"k":"om","t":"omdb:168256042:2039468_0_101","x":95,"y":505.5},{"k":"om","t":"omdb:168264121:2039491_0_114","x":95,"y":521.5},{"k":"om","t":"omdb:176017694:2069700_0_298","x":95,"y":540.5},
{"k":"gn","t":"SLC35C1","x":189,"y":218},{"k":"gn","t":"SLC35C1","x":189,"y":222.5},{"k":"gn","t":"SLC35C1","x":202,"y":228},{"k":"gn","t":"PRSS23","x":365,"y":216},{"k":"gn","t":"PRSS23","x":365,"y":221},{"k":"gn","t":"PRSS23","x":365,"y":226},{"k":"gn","t":"PRSS23","x":389,"y":231},{"k":"gn","t":"AL832003","x":440,"y":216},{"k":"gn","t":"OR7E5P","x":557,"y":221}
],
"tbold":[
{"k":"pl","t":"(A)","x":17,"y":16},{"k":"pl","t":"(B)","x":17,"y":392},
{"k":"nb","t":"1631","x":224,"y":81},{"k":"nb","t":"918","x":279,"y":81},{"k":"ng","t":"633","x":224,"y":95},{"k":"ng","t":"289","x":279,"y":95},
{"k":"mc","t":"17.5","x":184,"y":472},{"k":"mk","t":"10.9","x":213,"y":472},{"k":"mk","t":"15.1","x":271,"y":472},{"k":"mk","t":"6.1","x":311,"y":472},{"k":"mk","t":"6.5","x":333,"y":472},{"k":"mk","t":"25.2","x":396,"y":472},{"k":"mk","t":"6.4","x":454,"y":472},{"k":"mk","t":"8.9","x":488,"y":472},{"k":"mk","t":"6.9","x":516,"y":472},{"k":"mk","t":"6.9","x":544,"y":472},
{"k":"mr","t":"17.4","x":184,"y":487},{"k":"mr","t":"11.9","x":213,"y":487},{"k":"mr","t":"13.0","x":271,"y":487},{"k":"mr","t":"5.8","x":311,"y":487},{"k":"mr","t":"6.2","x":333,"y":487},{"k":"mr","t":"25.4","x":396,"y":487},{"k":"mr","t":"7.7","x":454,"y":487},{"k":"mr","t":"8.1","x":488,"y":487},{"k":"mr","t":"5.9","x":516,"y":487},{"k":"mr","t":"7.7","x":544,"y":487},
{"k":"mr","t":"17.8","x":184,"y":505.5},{"k":"mr","t":"11.7","x":213,"y":505.5},{"k":"mr","t":"14.6","x":271,"y":505.5},{"k":"mr","t":"5.3","x":311,"y":505.5},{"k":"mr","t":"6.4","x":333,"y":505.5},{"k":"mr","t":"27.1","x":396,"y":505.5},{"k":"mp","t":"16.3","x":472,"y":505.5},{"k":"mr","t":"5.5","x":516,"y":505.5},{"k":"mr","t":"6.3","x":544,"y":505.5},
{"k":"mr","t":"15.2","x":184,"y":522},{"k":"mr","t":"11.4","x":213,"y":522},{"k":"mr","t":"14.9","x":271,"y":522},{"k":"mr","t":"6.8","x":311,"y":522},{"k":"mr","t":"6.2","x":333,"y":522},{"k":"mr","t":"25.7","x":396,"y":522},{"k":"mr","t":"6.5","x":454,"y":522},{"k":"mr","t":"8.8","x":488,"y":522},{"k":"mr","t":"5.2","x":516,"y":522},{"k":"mr","t":"8.0","x":544,"y":522},
{"k":"mr","t":"17.0","x":184,"y":541},{"k":"mr","t":"11.4","x":213,"y":541},{"k":"mr","t":"17.9","x":271,"y":541},{"k":"mp","t":"10.0","x":321,"y":541},{"k":"mr","t":"28.0","x":396,"y":541},{"k":"mr","t":"6.3","x":454,"y":541},{"k":"mr","t":"9.4","x":488,"y":541},{"k":"mr","t":"6.9","x":516,"y":541},{"k":"mr","t":"6.7","x":544,"y":541},
{"k":"mk","t":"18.7","x":154,"y":673},{"k":"mk","t":"10.3","x":180,"y":673},{"k":"mk","t":"10.4","x":199,"y":673},{"k":"sk","t":"3.1","x":212,"y":673},{"k":"mk","t":"16.2","x":230,"y":673},{"k":"mk","t":"11.9","x":254,"y":673},{"k":"mk","t":"7.0","x":270,"y":673},{"k":"mk","t":"8.6","x":284,"y":673},{"k":"sk","t":"3.7","x":295,"y":673},{"k":"mk","t":"7.6","x":307,"y":673},{"k":"sk","t":"2.9","x":317,"y":673},{"k":"mk","t":"13.6","x":332,"y":673},{"k":"mk","t":"7.8","x":348,"y":673},{"k":"mk","t":"9.5","x":363,"y":673},{"k":"mk","t":"6.1","x":378,"y":673},{"k":"mk","t":"14.4","x":397,"y":673},{"k":"mk","t":"12.8","x":421,"y":673},{"k":"mk","t":"14.7","x":444,"y":673},{"k":"sk","t":"2.7","x":462,"y":673},{"k":"mk","t":"7.9","x":472,"y":673},{"k":"mk","t":"9.7","x":488,"y":673},
{"k":"mr","t":"20.2","x":155,"y":686},{"k":"mp","t":"20.0","x":191,"y":686},{"k":"sr","t":"3.6","x":212,"y":686},{"k":"mr","t":"16.4","x":230,"y":686},{"k":"mr","t":"11.2","x":254,"y":686},{"k":"mr","t":"8.2","x":271,"y":686},{"k":"mr","t":"8.4","x":283,"y":686},{"k":"sr","t":"4.0","x":295,"y":686},{"k":"mp","t":"25.7","x":321,"y":686},{"k":"mr","t":"7.6","x":349,"y":686},{"k":"mr","t":"9.9","x":363,"y":686},{"k":"mr","t":"6.6","x":377,"y":686},{"k":"mr","t":"14.8","x":398,"y":686},{"k":"mr","t":"13.3","x":423,"y":686},{"k":"mr","t":"14.8","x":445,"y":686},{"k":"mp","t":"9.8","x":467,"y":686},{"k":"mr","t":"11.4","x":488,"y":686},
{"k":"mr","t":"10.2","x":254,"y":707},{"k":"mr","t":"7.4","x":271,"y":707},{"k":"mp","t":"12.1","x":287,"y":707},{"k":"mr","t":"8.0","x":303,"y":707},{"k":"sr","t":"3.1","x":311,"y":707},{"k":"mr","t":"14.4","x":331,"y":707},{"k":"mp","t":"17.6","x":357,"y":707},{"k":"mr","t":"6.3","x":378,"y":707},{"k":"mr","t":"14.4","x":395,"y":707},{"k":"mr","t":"13.9","x":425,"y":707},{"k":"mr","t":"13.7","x":447,"y":707},{"k":"mp","t":"7.9","x":467,"y":707},{"k":"mr","t":"10.2","x":486,"y":707},
{"k":"mr","t":"19.9","x":148,"y":730},{"k":"mr","t":"10.6","x":180,"y":730},{"k":"mp","t":"14.3","x":202,"y":730},{"k":"mr","t":"17.5","x":230,"y":730},{"k":"mr","t":"12.0","x":254,"y":730},{"k":"mp","t":"20.1","x":284,"y":730},{"k":"mr","t":"7.9","x":313,"y":730},{"k":"mp","t":"17.6","x":327,"y":730},{"k":"mr","t":"8.2","x":350,"y":730},{"k":"mr","t":"9.9","x":365,"y":730},{"k":"mr","t":"6.2","x":379,"y":730},{"k":"mp","t":"42.0","x":423,"y":730},{"k":"mp","t":"11.4","x":467,"y":730},{"k":"mr","t":"10.0","x":487,"y":730},
{"k":"mp","t":"19.1","x":219,"y":751},{"k":"mr","t":"8.5","x":253,"y":751},{"k":"mp","t":"15.1","x":276,"y":751},{"k":"mp","t":"12.3","x":299,"y":751},{"k":"mp","t":"15.9","x":322,"y":751},{"k":"mr","t":"8.1","x":347,"y":751},{"k":"mr","t":"9.1","x":362,"y":751},{"k":"mr","t":"6.8","x":377,"y":751},{"k":"mr","t":"13.6","x":396,"y":751},{"k":"mr","t":"13.1","x":422,"y":751},{"k":"mp","t":"16.7","x":452,"y":751},{"k":"mr","t":"7.7","x":470,"y":751},{"k":"mr","t":"11.1","x":486,"y":751}
]
},
"layer":[
{"data":{"name":"ideo"},"mark":{"type":"rect"},
 "encoding":{"x":{"field":"x","type":"quantitative","scale":{"domain":[0,602],"nice":false,"zero":false},"axis":null},"x2":{"field":"x2"},
 "y":{"field":"y","type":"quantitative","scale":{"domain":[0,761],"reverse":true,"nice":false,"zero":false},"axis":null},"y2":{"field":"y2"},
 "fill":{"field":"c","type":"nominal","scale":{"domain":["w","g","d","k"],"range":["#efefef","#a2a2a2","#5b5b5b","#151515"]},"legend":null}}},
{"data":{"name":"ideobox"},"mark":{"type":"rect","fillOpacity":0,"stroke":"#555555","strokeWidth":0.7},
 "encoding":{"x":{"field":"x","type":"quantitative","scale":{"domain":[0,602],"nice":false,"zero":false},"axis":null},"x2":{"field":"x2"},
 "y":{"field":"y","type":"quantitative","scale":{"domain":[0,761],"reverse":true,"nice":false,"zero":false},"axis":null},"y2":{"field":"y2"}}},
{"data":{"name":"bars"},"mark":{"type":"rect","strokeWidth":0.6},
 "encoding":{"x":{"field":"x","type":"quantitative","scale":{"domain":[0,602],"nice":false,"zero":false},"axis":null},"x2":{"field":"x2"},
 "y":{"field":"y","type":"quantitative","scale":{"domain":[0,761],"reverse":true,"nice":false,"zero":false},"axis":null},"y2":{"field":"y2"},
 "fill":{"field":"c","type":"nominal","scale":{"domain":["b","g"],"range":["#1b90d3","#8cc63f"]},"legend":null},
 "stroke":{"field":"c","type":"nominal","scale":{"domain":["b","g"],"range":["#1c4a6a","#4e6a2a"]},"legend":null}}},
{"data":{"name":"areas"},"transform":[{"lookup":"s","from":{"data":{"name":"bases"},"key":"s","fields":["b"]}}],
 "mark":{"type":"area","color":"#111111"},
 "encoding":{"x":{"field":"x","type":"quantitative","scale":{"domain":[0,602],"nice":false,"zero":false},"axis":null},
 "y":{"field":"y","type":"quantitative","scale":{"domain":[0,761],"reverse":true,"nice":false,"zero":false},"axis":null},"y2":{"field":"b"},
 "detail":{"field":"s","type":"nominal"}}},
{"data":{"name":"hl"},"mark":{"type":"rect","opacity":0.6},
 "encoding":{"x":{"field":"x","type":"quantitative","scale":{"domain":[0,602],"nice":false,"zero":false},"axis":null},"x2":{"field":"x2"},
 "y":{"field":"y","type":"quantitative","scale":{"domain":[0,761],"reverse":true,"nice":false,"zero":false},"axis":null},"y2":{"field":"y2"},
 "fill":{"field":"c","type":"nominal","scale":{"domain":["g","p"],"range":["#b9dc8a","#e58cc4"]},"legend":null}}},
{"data":{"name":"curves"},"mark":{"type":"line","interpolate":"monotone"},
 "encoding":{"x":{"field":"x","type":"quantitative","scale":{"domain":[0,602],"nice":false,"zero":false},"axis":null},
 "y":{"field":"y","type":"quantitative","scale":{"domain":[0,761],"reverse":true,"nice":false,"zero":false},"axis":null},
 "detail":{"field":"s","type":"nominal"},
 "color":{"field":"c","type":"nominal","scale":{"domain":["b","g"],"range":["#1a9ad8","#3aaa35"]},"legend":null},
 "size":{"field":"c","type":"nominal","scale":{"type":"ordinal","domain":["b","g"],"range":[2,1.2]},"legend":null}}},
{"data":{"name":"dcurve"},"mark":{"type":"line","interpolate":"cardinal","color":"#7fd0ef","strokeWidth":1,"strokeDash":[1.2,1.2]},
 "encoding":{"x":{"field":"x","type":"quantitative","scale":{"domain":[0,602],"nice":false,"zero":false},"axis":null},
 "y":{"field":"y","type":"quantitative","scale":{"domain":[0,761],"reverse":true,"nice":false,"zero":false},"axis":null},
 "order":{"field":"i","type":"quantitative"}}},
{"data":{"name":"rules"},"mark":{"type":"rule"},
 "encoding":{"x":{"field":"x","type":"quantitative","scale":{"domain":[0,602],"nice":false,"zero":false},"axis":null},"x2":{"field":"x2"},
 "y":{"field":"y","type":"quantitative","scale":{"domain":[0,761],"reverse":true,"nice":false,"zero":false},"axis":null},"y2":{"field":"y2"},
 "color":{"field":"k","type":"nominal","scale":{"domain":["red","cen","blk","sb","map","blue","gdot","gthk","base","based","ul","chia"],"range":["#d8262d","#c4262c","#111111","#8a8a8a","#37c0ee","#1a9ad8","#4a4aa8","#25258c","#222222","#333333","#333333","#3aaa35"]},"legend":null},
 "size":{"field":"k","type":"nominal","scale":{"type":"ordinal","domain":["red","cen","blk","sb","map","blue","gdot","gthk","base","based","ul","chia"],"range":[1.3,1,2.6,0.8,1.6,2,0.6,3,0.7,0.7,1.2,1.2]},"legend":null},
 "strokeDash":{"field":"k","type":"nominal","scale":{"domain":["red","cen","blk","sb","map","blue","gdot","gthk","base","based","ul","chia"],"range":[[1,0],[1,0],[1,0],[1,0],[1,0],[1,0],[1,1],[1,0],[1,0],[5,3],[1,0],[1,0]]},"legend":null}}},
{"data":{"name":"dots"},"mark":{"type":"point","shape":"square","filled":true,"opacity":1},
 "encoding":{"x":{"field":"x","type":"quantitative","scale":{"domain":[0,602],"nice":false,"zero":false},"axis":null},
 "y":{"field":"y","type":"quantitative","scale":{"domain":[0,761],"reverse":true,"nice":false,"zero":false},"axis":null},
 "color":{"field":"c","type":"nominal","scale":{"domain":["r","p"],"range":["#e8336b","#3b3a9c"]},"legend":null},
 "size":{"value":9}}},
{"data":{"name":"tright"},"mark":{"type":"text","align":"right","baseline":"middle","fontSize":12,"color":"#231f20"},
 "encoding":{"x":{"field":"x","type":"quantitative","scale":{"domain":[0,602],"nice":false,"zero":false},"axis":null},
 "y":{"field":"y","type":"quantitative","scale":{"domain":[0,761],"reverse":true,"nice":false,"zero":false},"axis":null},
 "text":{"field":"t"}}},
{"data":{"name":"tnorm"},"mark":{"type":"text","align":"center","baseline":"middle"},
 "encoding":{"x":{"field":"x","type":"quantitative","scale":{"domain":[0,602],"nice":false,"zero":false},"axis":null},
 "y":{"field":"y","type":"quantitative","scale":{"domain":[0,761],"reverse":true,"nice":false,"zero":false},"axis":null},
 "text":{"field":"t"},
 "color":{"field":"k","type":"nominal","scale":{"domain":["chr","x3","sb","tk","om","gn"],"range":["#231f20","#231f20","#333333","#444444","#231f20","#3b3ba0"]},"legend":null},
 "size":{"field":"k","type":"nominal","scale":{"type":"ordinal","domain":["chr","x3","sb","tk","om","gn"],"range":[12.5,13,9,4.6,7.8,4.2]},"legend":null}}},
{"data":{"name":"tbold"},"mark":{"type":"text","align":"center","baseline":"middle","fontWeight":"bold"},
 "encoding":{"x":{"field":"x","type":"quantitative","scale":{"domain":[0,602],"nice":false,"zero":false},"axis":null},
 "y":{"field":"y","type":"quantitative","scale":{"domain":[0,761],"reverse":true,"nice":false,"zero":false},"axis":null},
 "text":{"field":"t"},
 "color":{"field":"k","type":"nominal","scale":{"domain":["pl","nb","ng","mk","mr","mp","mc","sk","sr"],"range":["#111111","#1e9bd7","#8cc63e","#222222","#e8476b","#5d4fa2","#5cc8e6","#222222","#e8476b"]},"legend":null},
 "size":{"field":"k","type":"nominal","scale":{"type":"ordinal","domain":["pl","nb","ng","mk","mr","mp","mc","sk","sr"],"range":[15,12.5,12.5,7,7,7,7,4.8,4.8]},"legend":null}}}
]
}
